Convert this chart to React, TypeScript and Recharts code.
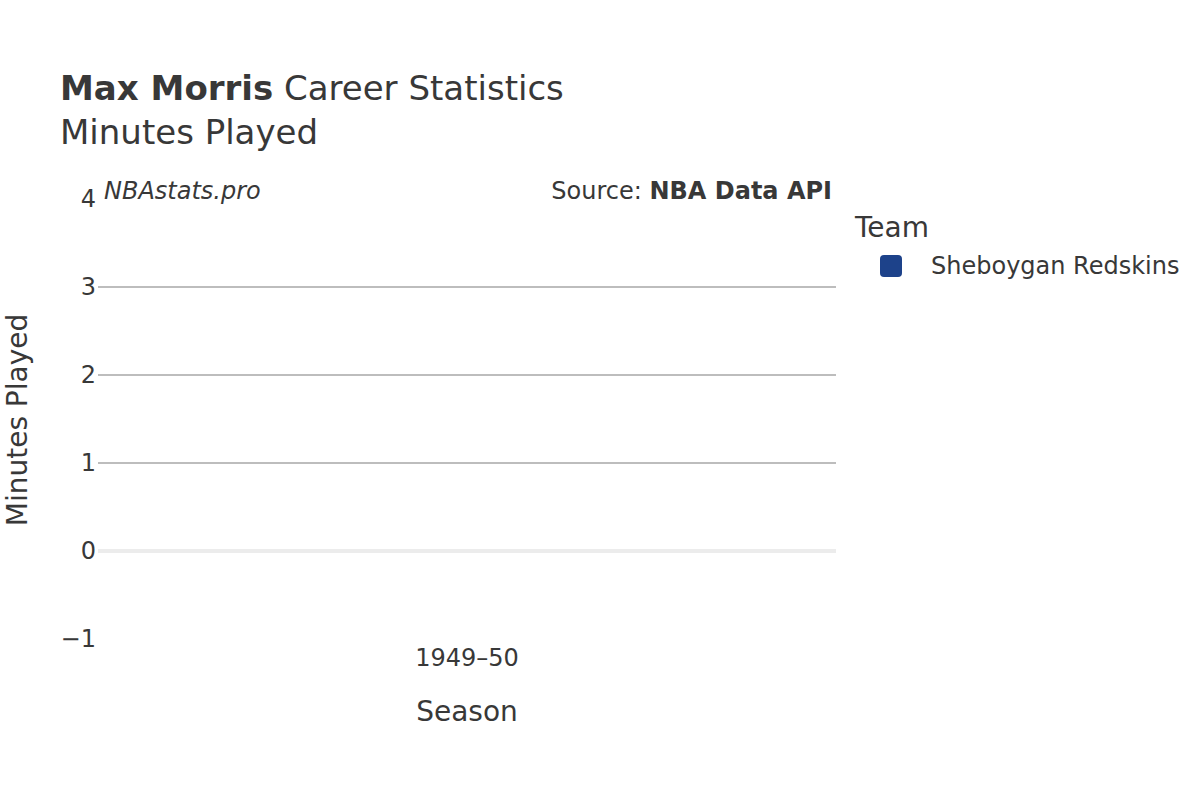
import React from 'react';
import { BarChart, Bar, XAxis, YAxis, ReferenceLine } from 'recharts';

const seasons = ['1949–50'];
const minutesPlayed = [0];
const yTicks = [-1, 0, 1, 2, 3, 4];
const gridValues = [1, 2, 3];
const teamName = 'Sheboygan Redskins';

const data = seasons.map((season, i) => ({ season, minutes: minutesPlayed[i] }));

const FONT = '"DejaVu Sans", sans-serif';
const TEXT = '#383838';
const BAR = '#1d428a';

const fmt = (v: number) => (v < 0 ? `\u2212${Math.abs(v)}` : `${v}`);

const YTick = (props: any) => {
  const { x, y, payload } = props;
  return (
    <text x={x + 6} y={y + 8} textAnchor="end" fontSize={24} fill={TEXT} fontFamily={FONT}>
      {fmt(payload.value)}
    </text>
  );
};

const XTick = (props: any) => {
  const { x, y, payload } = props;
  return (
    <text x={x} y={y + 19} textAnchor="middle" fontSize={24} fill={TEXT} fontFamily={FONT}>
      {payload.value}
    </text>
  );
};

// legend drawn as HTML so it does not shrink the plot area
const LegendBox = () => (
  <div style={{ fontFamily: FONT, color: TEXT, position: 'absolute', left: 855, top: 212, width: 345, textAlign: 'left' }}>
    <div style={{ fontSize: 28, marginBottom: 8, lineHeight: '32px' }}>Team</div>
    <div style={{ display: 'flex', alignItems: 'center' }}>
      <span style={{ display: 'inline-block', width: 22, height: 22, borderRadius: 4, background: BAR, marginLeft: 25, marginRight: 29 }} />
      <span style={{ fontSize: 24 }}>{teamName}</span>
    </div>
  </div>
);

export default function App() {
  return (
    <div style={{ position: 'absolute', left: 0, top: 0, width: 1200, height: 800, background: '#fff', fontFamily: FONT }}>
      <div style={{ position: 'absolute', left: 60, top: 66, fontSize: 34, color: TEXT, lineHeight: '44px', whiteSpace: 'nowrap' }}>
        <div><b>Max Morris</b> Career Statistics</div>
        <div>Minutes Played</div>
      </div>
      <div style={{ position: 'absolute', left: 0, top: 0 }}>
        <BarChart
          width={1200}
          height={800}
          data={data}
          margin={{ top: 199, right: 364, bottom: 131, left: 58 }}
        >
          <XAxis
            dataKey="season"
            axisLine={false}
            tickLine={false}
            tick={<XTick />}
            height={30}
          />
          <YAxis
            domain={[-1, 4]}
            ticks={yTicks}
            axisLine={false}
            tickLine={false}
            tick={<YTick />}
            width={40}
            interval={0}
          />
          {gridValues.map((v) => (
            <ReferenceLine key={v} y={v} stroke="#bdbdbd" strokeWidth={2} />
          ))}
          <ReferenceLine y={0} stroke="#ececec" strokeWidth={4} />
          <Bar dataKey="minutes" name={teamName} fill={BAR} isAnimationActive={false} />
        </BarChart>
      </div>
      <LegendBox />
      <div style={{ position: 'absolute', left: 104, top: 177, fontSize: 24, fontStyle: 'italic', color: TEXT }}>NBAstats.pro</div>
      <div style={{ position: 'absolute', right: 368, top: 177, fontSize: 24, color: TEXT }}>
        Source: <b>NBA Data API</b>
      </div>
      <div style={{ position: 'absolute', left: 467, top: 695, transform: 'translateX(-50%)', fontSize: 28, color: TEXT, whiteSpace: 'nowrap' }}>
        Season
      </div>
      <div style={{ position: 'absolute', left: 17, top: 420, transform: 'translate(-50%, -50%) rotate(-90deg)', fontSize: 28, color: TEXT, whiteSpace: 'nowrap' }}>
        Minutes Played
      </div>
    </div>
  );
}
